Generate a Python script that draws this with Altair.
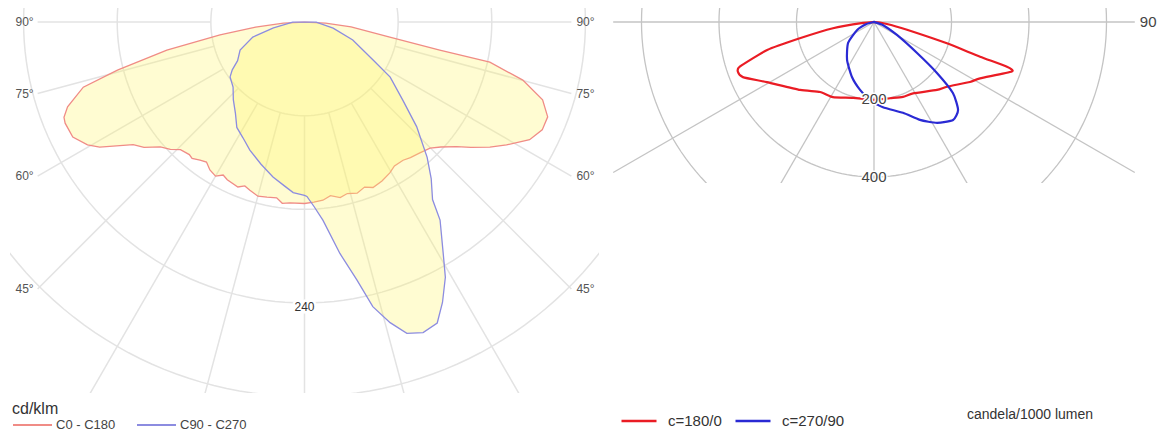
import altair as alt
import pandas as pd

FONT = "Liberation Sans"

# ---------------- Left diagram (cd/klm) ----------------
L_SERIES = ["C0 - C180", "C90 - C270"]
L_COLORS = ["#f08c86", "#8c8ce0"]
L_RINGS = [80, 160, 240, 320]
L_RING_LABELS = [240]
L_SPOKES = [-90, -75, -60, -45, -30, -15, 0, 15, 30, 45, 60, 75, 90]
L_ANGLE_LABELS = [-90, -75, -60, -45, 45, 60, 75, 90]

# signed angle from nadir (negative = C180 half, positive = C0 half), intensity cd/klm
L_RED_ANGLE = [-90, -87, -84, -81.3, -78.5, -75.6, -73.6, -70.3, -68.4, -67.1, -63.6,
               -60.5, -58.6, -54.4, -52, -49.1, -46.5, -44.2, -41, -39.5, -37.1, -35,
               -32.6, -30, -28, -26.1, -22, -20, -18, -15, -12.1, -9, -7, -4.6, 0,
               3, 5.9, 8.5, 11.5, 14, 17.1, 20, 22.5, 26, 29.5, 32, 35.5, 38, 41.4,
               44.9, 47.5, 50.7, 53, 56, 58.7, 62.4, 65.6, 68.7, 71.9, 75.1, 77.8,
               78.3, 80, 84, 87, 90]
L_RED_VALUE = [0, 18, 42, 73, 120, 165, 197, 215, 221, 222, 221,
               213, 205, 180, 174, 163, 158, 152, 150, 151, 148, 146,
               150, 152, 148, 150, 152, 149, 151, 154, 153, 152, 156, 155, 155,
               154, 153, 150, 153, 151, 153, 150, 153, 151, 148, 145, 145, 147, 149,
               152, 158, 168, 178, 191, 202, 217, 223, 223, 214, 193, 162,
               118, 74, 40, 18, 0]

L_BLUE_ANGLE = [-90, -79.2, -73.8, -66.5, -60, -56.5, -53.6, -47.7, -42.5, -37, -32.7,
                -28, -23.1, -17, -11.5, -7, -3.8, 0, 0.8, 3, 5.3, 8.7, 11.5, 13.5,
                15.9, 18.2, 20.9, 23.8, 26.2, 28.9, 31, 34.4, 35.8, 39, 42.2, 47,
                51.6, 57.3, 61, 69.6, 78, 90]
L_BLUE_VALUE = [10, 27, 46, 60, 66, 74, 79, 82.5, 90, 98, 107,
                112, 119, 127, 135, 141, 146, 148, 149, 158, 170, 200, 225, 250,
                267, 280, 284, 281, 267, 249, 230, 205, 187, 172, 156, 131,
                107, 87, 67, 44, 25, 10]

# ---------------- Right diagram (candela/1000 lumen) ----------------
R_SERIES = ["c=180/0", "c=270/90"]
R_COLORS = ["#ea1c24", "#2a2ad4"]
R_RINGS = [200, 400, 600]
R_RING_LABELS = [200, 400]
R_SPOKES = [-90, -60, -30, 0, 30, 60, 90]
R_ANGLE_LABELS = [90]
R_UNIT = ["candela/1000 lumen"]

R_RED_ANGLE = [-90, -85, -81.3, -77.6, -75.3, -71.6, -69.9, -67.2, -60.7, -47.4, -37.6,
               -28.7, -15.4, 0, 11.8, 21.1, 28.7, 42.8, 48.5, 58, 62, 70.2, 71.4,
               71.9, 73.7, 76, 80, 85, 90]
R_RED_VALUE = [0, 28, 107, 196, 285, 365, 374, 367, 317, 259, 228,
               221, 203, 201, 201, 207, 210, 239, 252, 292, 310, 378, 362,
               288, 196, 104, 45, 15, 0]

R_BLUE_ANGLE = [-90, -75, -64.8, -51, -35.4, -21.8, -11.6, -2.9, 6, 17.7, 25.1, 32,
                38.9, 43.7, 48, 51, 54.2, 60.5, 71.6, 90]
R_BLUE_VALUE = [0, 20, 48, 86, 120, 153, 179, 202, 221, 246, 279, 307,
                325, 314, 274, 209, 137, 68, 24, 0]

# ---------------- layout (pixels / scale domains) ----------------
L_W, L_H = 589, 385
L_XDOM, L_YDOM = [-251.6, 251.6], [-316.9, 12.0]
L_XLIM, L_YLIM = 228, 330

R_W, R_H = 525, 175
R_XDOM, R_YDOM = [-676.1, 678.7], [-415.5, 36.1]
R_XLIM, R_YLIM = 673, 420

PX = "datum.r * sin(datum.theta * PI / 180)"
PY = "-datum.r * cos(datum.theta * PI / 180)"


def enc_xy(xdom, ydom, xf="x", yf="y"):
    return dict(
        x=alt.X(f"{xf}:Q", scale=alt.Scale(domain=xdom, nice=False, zero=False), axis=None),
        y=alt.Y(f"{yf}:Q", scale=alt.Scale(domain=ydom, nice=False, zero=False), axis=None),
    )


def rings_layer(rings, xdom, ydom, color, width):
    rows = [{"ring": r, "theta": a, "r": r} for r in rings for a in range(0, 361, 2)]
    return (
        alt.Chart(pd.DataFrame(rows))
        .transform_calculate(x=PX, y=PY)
        .mark_line(stroke=color, strokeWidth=width, clip=True)
        .encode(detail="ring:N", order="theta:Q", **enc_xy(xdom, ydom))
    )


def spokes_layer(spokes, r0, xlim, ylim, xdom, ydom, color, width):
    return (
        alt.Chart(pd.DataFrame({"theta": spokes}))
        .transform_calculate(s="sin(datum.theta*PI/180)", c="cos(datum.theta*PI/180)")
        .transform_calculate(
            rend=f"min(abs(datum.s) > 1e-6 ? {xlim}/abs(datum.s) : 1e6, datum.c > 1e-6 ? {ylim}/datum.c : 1e6)"
        )
        .transform_calculate(
            x=f"{r0}*datum.s", y=f"-{r0}*datum.c",
            x2="datum.rend*datum.s", y2="-datum.rend*datum.c",
        )
        .mark_rule(stroke=color, strokeWidth=width, clip=True)
        .encode(x2="x2:Q", y2="y2:Q", **enc_xy(xdom, ydom))
    )


def angle_labels(angles, xlim, xdom, ydom, size, color, deg=True):
    df = pd.DataFrame({"theta": angles})
    df["label"] = [f"{abs(a)}°" if deg else f"{abs(a)}" for a in angles]
    base = (
        alt.Chart(df)
        .transform_calculate(s="sin(datum.theta*PI/180)", c="cos(datum.theta*PI/180)")
        .transform_calculate(x=f"datum.s > 0 ? {xlim} : -{xlim}", y=f"-{xlim}*datum.c/abs(datum.s)")
    )
    left = base.transform_filter("datum.theta < 0").mark_text(
        align="right", baseline="middle", dx=-4, font=FONT, fontSize=size, fill=color
    ).encode(text="label:N", **enc_xy(xdom, ydom))
    right = base.transform_filter("datum.theta > 0").mark_text(
        align="left", baseline="middle", dx=5, font=FONT, fontSize=size, fill=color
    ).encode(text="label:N", **enc_xy(xdom, ydom))
    return [left, right]


def ring_labels(values, xdom, ydom, size, color, dy, halo):
    df = pd.DataFrame({"r": values, "theta": [0] * len(values)})
    df["label"] = [str(v) for v in values]
    base = alt.Chart(df).transform_calculate(x=PX, y=PY)
    h = base.mark_text(align="center", baseline="middle", dy=dy, font=FONT, fontSize=size,
                       fill="white", stroke="white", strokeWidth=halo).encode(
        text="label:N", **enc_xy(xdom, ydom))
    t = base.mark_text(align="center", baseline="middle", dy=dy, font=FONT, fontSize=size,
                       fill=color).encode(text="label:N", **enc_xy(xdom, ydom))
    return [h, t]


def curves_frame(names, angle_lists, value_lists):
    frames = []
    for n, a, v in zip(names, angle_lists, value_lists):
        frames.append(pd.DataFrame({"series": n, "idx": list(range(len(a))), "theta": a, "r": v}))
    return pd.concat(frames, ignore_index=True)


# ---------- left panel ----------
l_curves_df = curves_frame(L_SERIES, [L_RED_ANGLE, L_BLUE_ANGLE], [L_RED_VALUE, L_BLUE_VALUE])
l_curves = (
    alt.Chart(l_curves_df)
    .transform_calculate(x=PX, y=PY)
    .mark_line(fill="#fff56a", fillOpacity=0.30, strokeWidth=1.3,
               interpolate="linear-closed", clip=True)
    .encode(
        stroke=alt.Stroke(
            "series:N",
            scale=alt.Scale(domain=L_SERIES, range=L_COLORS),
            legend=alt.Legend(
                title="cd/klm", orient="none", legendX=2, legendY=393,
                direction="horizontal", symbolType="stroke", symbolSize=1521,
                symbolStrokeWidth=2, clipHeight=14, labelFont=FONT, labelFontSize=13,
                labelColor="#444444", labelOffset=3, columnPadding=20,
                titleFont=FONT, titleFontSize=16, titleFontWeight="normal",
                titleColor="#333333", titlePadding=1,
            ),
        ),
        order="idx:Q",
        **enc_xy(L_XDOM, L_YDOM),
    )
)

left = alt.layer(
    rings_layer(L_RINGS, L_XDOM, L_YDOM, "#e3e3e3", 1.5),
    spokes_layer(L_SPOKES, L_RINGS[0], L_XLIM, L_YLIM, L_XDOM, L_YDOM, "#e3e3e3", 1.5),
    l_curves,
    *angle_labels(L_ANGLE_LABELS, L_XLIM, L_XDOM, L_YDOM, 12, "#555555"),
    *ring_labels(L_RING_LABELS, L_XDOM, L_YDOM, 12, "#333333", 4, 5),
).properties(width=L_W, height=L_H)

# ---------- right panel ----------
r_curves_df = curves_frame(R_SERIES, [R_RED_ANGLE, R_BLUE_ANGLE], [R_RED_VALUE, R_BLUE_VALUE])
r_curves = (
    alt.Chart(r_curves_df)
    .transform_calculate(x=PX, y=PY)
    .mark_line(strokeWidth=2.2, interpolate="cardinal-closed", tension=0.4, clip=True)
    .encode(
        stroke=alt.Stroke(
            "series:N",
            scale=alt.Scale(domain=R_SERIES, range=R_COLORS),
            legend=alt.Legend(
                title=None, orient="none", legendX=8, legendY=406,
                direction="horizontal", symbolType="stroke", symbolSize=1225,
                symbolStrokeWidth=2.5, clipHeight=14, labelFont=FONT, labelFontSize=15,
                labelColor="#333333", labelOffset=10, columnPadding=12,
            ),
        ),
        order="idx:Q",
        **enc_xy(R_XDOM, R_YDOM),
    )
)

r_unit = alt.Chart(pd.DataFrame({"label": R_UNIT})).mark_text(
    align="left", baseline="middle", font=FONT, fontSize=14, fill="#333333"
).encode(text="label:N", x=alt.value(355), y=alt.value(407))

right = alt.layer(
    rings_layer(R_RINGS, R_XDOM, R_YDOM, "#c4c4c4", 1.3),
    spokes_layer(R_SPOKES, 0, R_XLIM, R_YLIM, R_XDOM, R_YDOM, "#c4c4c4", 1.3),
    r_curves,
    *angle_labels(R_ANGLE_LABELS, R_XLIM, R_XDOM, R_YDOM, 15, "#444444", deg=False),
    *ring_labels(R_RING_LABELS, R_XDOM, R_YDOM, 15, "#444444", 0, 3),
    r_unit,
).properties(width=R_W, height=R_H)

chart = (
    alt.hconcat(left, right, spacing=13, bounds="flush")
    .resolve_scale(stroke="independent", x="independent", y="independent")
    .resolve_legend(stroke="independent")
    .properties(padding={"left": 2, "top": 0, "right": 0, "bottom": 0}, background="white")
    .configure_view(stroke=None)
)

chart.save("out.html", embed_options={"renderer": "svg", "actions": False})
